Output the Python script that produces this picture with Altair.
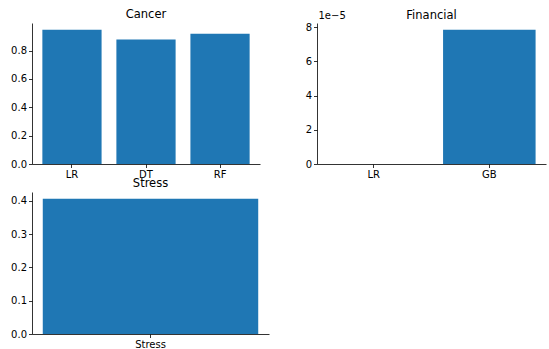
import altair as alt
import pandas as pd

cancer_models = ["LR", "DT", "RF"]
cancer_scores = [0.947, 0.877, 0.919]
financial_models = ["LR", "GB"]
financial_scores = [0.0, 7.85e-5]
stress_models = ["Stress"]
stress_scores = [0.406]

BLUE = "#1f77b4"
FONT = "DejaVu Sans"


def panel(models, scores, title, ymax, ticks, fmt_expr, pad_outer, w, h,
          ytitle=None, title_offset=4):
    df = pd.DataFrame({"model": models, "score": scores})
    yaxis_kwargs = dict(values=ticks, labelExpr=fmt_expr, grid=False)
    if ytitle:
        yaxis_kwargs.update(title=ytitle, titleAngle=0, titleAlign="left",
                            titleBaseline="bottom", titleX=1, titleY=-3,
                            titleFontSize=10, titleFontWeight="normal",
                            titleColor="black", titleFont=FONT)
    else:
        yaxis_kwargs.update(title=None)
    return alt.Chart(df).mark_bar(color=BLUE).encode(
        x=alt.X("model:N", sort=models,
                scale=alt.Scale(paddingInner=0.2, paddingOuter=pad_outer),
                axis=alt.Axis(title=None, labelAngle=0)),
        y=alt.Y("score:Q", scale=alt.Scale(domain=[0, ymax], nice=False, zero=True),
                axis=alt.Axis(**yaxis_kwargs)),
    ).properties(
        width=w, height=h,
        title=alt.TitleParams(title, fontSize=11.5, font=FONT, fontWeight="normal",
                              color="black", offset=title_offset),
    )


cancer = panel(cancer_models, cancer_scores, "Cancer", 0.994,
               [0, 0.2, 0.4, 0.6, 0.8], "format(datum.value, '.1f')", 0.14, 228, 141,
               title_offset=3)
financial = panel(financial_models, financial_scores, "Financial", 8.24e-5,
                  [0, 2e-5, 4e-5, 6e-5, 8e-5], "format(datum.value * 1e5, 'd')", 0.09,
                  229, 141, ytitle="1e\u22125", title_offset=-11)
stress = panel(stress_models, stress_scores, "Stress", 0.426,
               [0, 0.1, 0.2, 0.3, 0.4], "format(datum.value, '.1f')", 0.04, 237, 142,
               title_offset=3)

chart = alt.concat(
    cancer, financial, stress,
    columns=2,
    spacing={"column": 48, "row": 28},
    bounds="flush",
).properties(
    padding={"left": 10, "top": 8, "right": 2, "bottom": 0},
).configure_view(stroke=None).configure_axis(
    domainColor="black", domainWidth=0.8, tickColor="black", tickWidth=0.8,
    tickSize=3.5, labelColor="black", labelFont=FONT, labelFontSize=10, labelPadding=2,
)

chart.save("out.html", embed_options={"renderer": "svg", "actions": False})
